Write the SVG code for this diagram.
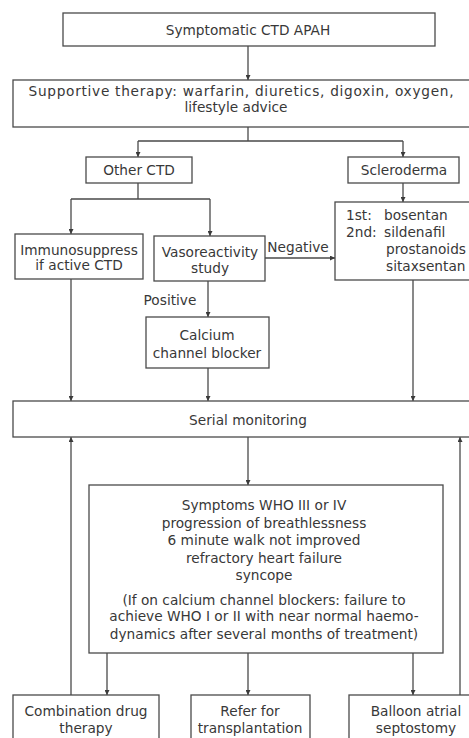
<svg xmlns="http://www.w3.org/2000/svg" width="469" height="738" viewBox="0 0 469 738">
<defs>
<marker id="ah" viewBox="0 0 10 10" refX="10" refY="5" markerWidth="5" markerHeight="5" orient="auto" markerUnits="userSpaceOnUse">
<path d="M0,0 L10,5 L0,10 z" fill="#3a3a3a"/>
</marker>
<style>
.box{fill:#fff;stroke:#4a4a4a;stroke-width:1.3}
.ln{fill:none;stroke:#4a4a4a;stroke-width:1.3}
.ar{fill:none;stroke:#4a4a4a;stroke-width:1.3;marker-end:url(#ah)}
text{font-family:"DejaVu Sans","Liberation Sans",sans-serif;font-size:13.7px;fill:#383838;text-anchor:middle}
.l{text-anchor:start}
</style>
</defs>
<rect width="469" height="738" fill="#fff"/>
<g id="connectors">
<path class="ar" d="M248,46 V80"/>
<path class="ln" d="M248,127 V141 M138,141 H403"/>
<path class="ar" d="M138,141 V157"/>
<path class="ar" d="M403,141 V157"/>
<path class="ln" d="M138,183 V199 M71,199 H210"/>
<path class="ar" d="M71,199 V234"/>
<path class="ar" d="M210,199 V236"/>
<path class="ar" d="M403,183 V202"/>
<path class="ar" d="M265,258 H335"/>
<path class="ar" d="M208,281 V317"/>
<path class="ar" d="M71,279 V401"/>
<path class="ar" d="M208,368 V401"/>
<path class="ar" d="M413,280 V401"/>
<path class="ar" d="M248,437 V485"/>
<path class="ar" d="M107,653 V695"/>
<path class="ar" d="M248,653 V695"/>
<path class="ar" d="M413,653 V695"/>
<path class="ar" d="M71,695 V437"/>
<path class="ar" d="M460,695 V437"/>
</g>
<g id="n-apah"><rect class="box" x="63" y="13" width="372" height="33"/><text x="248" y="35">Symptomatic CTD APAH</text></g>
<g id="n-supportive"><rect class="box" x="13" y="80" width="460" height="47"/><text x="241" y="96" textLength="425" lengthAdjust="spacing">Supportive therapy: warfarin, diuretics, digoxin, oxygen,</text><text x="236" y="112">lifestyle advice</text></g>
<g id="n-otherctd"><rect class="box" x="86" y="157" width="106" height="26"/><text x="139" y="175">Other CTD</text></g>
<g id="n-scleroderma"><rect class="box" x="348" y="157" width="111" height="26"/><text x="404" y="175">Scleroderma</text></g>
<g id="n-immuno"><rect class="box" x="15" y="234" width="128" height="45"/><text x="79" y="255">Immunosuppress</text><text x="79" y="270">if active CTD</text></g>
<g id="n-vaso"><rect class="box" x="154" y="236" width="111" height="45"/><text x="210" y="257">Vasoreactivity</text><text x="210" y="273">study</text></g>
<g id="n-drugs"><rect class="box" x="335" y="202" width="140" height="78"/><text class="l" x="346" y="220">1st:<tspan x="384">bosentan</tspan></text><text class="l" x="346" y="237">2nd:<tspan x="384">sildenafil</tspan></text><text class="l" x="386" y="254">prostanoids</text><text class="l" x="386" y="271">sitaxsentan</text></g>
<text x="298" y="252">Negative</text>
<text x="170" y="305">Positive</text>
<g id="n-ccb"><rect class="box" x="146" y="317" width="123" height="51"/><text x="207" y="340">Calcium</text><text x="207" y="358">channel blocker</text></g>
<g id="n-serial"><rect class="box" x="13" y="401" width="460" height="36"/><text x="248" y="425">Serial monitoring</text></g>
<g id="n-symptoms"><rect class="box" x="89" y="485" width="354" height="168"/>
<text x="264" y="510">Symptoms WHO III or IV</text>
<text x="264" y="528">progression of breathlessness</text>
<text x="264" y="545">6 minute walk not improved</text>
<text x="264" y="563">refractory heart failure</text>
<text x="264" y="580">syncope</text>
<text x="264" y="605">(If on calcium channel blockers: failure to</text>
<text x="264" y="621">achieve WHO I or II with near normal haemo-</text>
<text x="264" y="639">dynamics after several months of treatment)</text>
</g>
<g id="n-combination"><rect class="box" x="13" y="695" width="146" height="60"/><text x="86" y="716">Combination drug</text><text x="86" y="733">therapy</text></g>
<g id="n-transplant"><rect class="box" x="191" y="695" width="119" height="60"/><text x="250" y="716">Refer for</text><text x="250" y="733">transplantation</text></g>
<g id="n-balloon"><rect class="box" x="349" y="695" width="124" height="60"/><text x="416" y="716">Balloon atrial</text><text x="416" y="733">septostomy</text></g>
</svg>
